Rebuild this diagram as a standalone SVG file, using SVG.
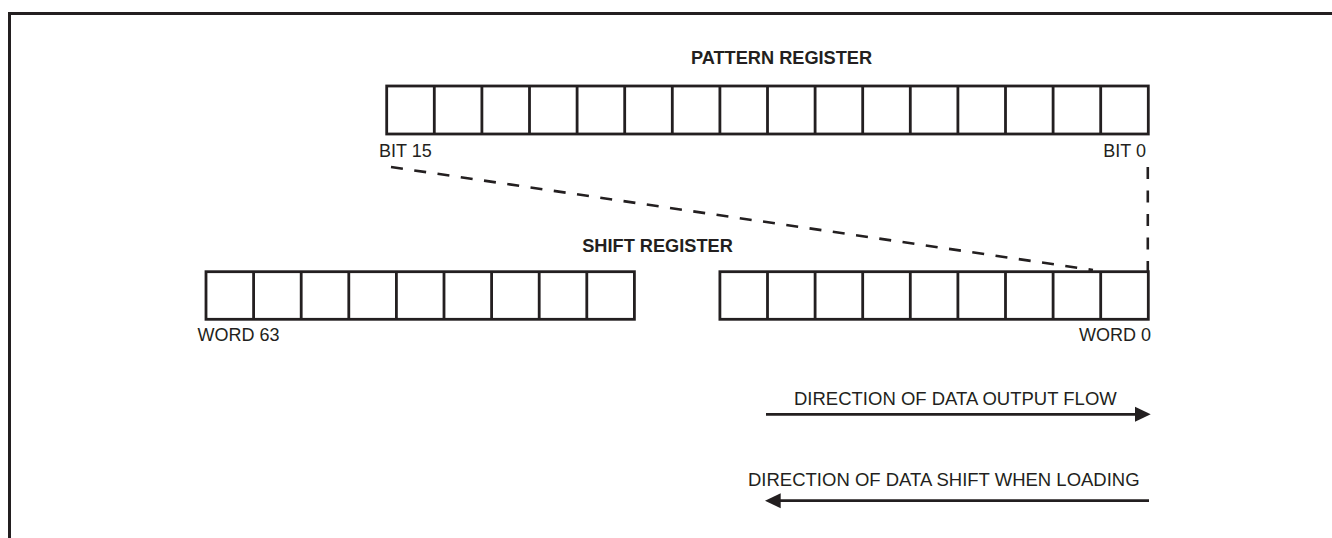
<svg xmlns="http://www.w3.org/2000/svg" width="1332" height="538" viewBox="0 0 1332 538">
  <style>
    .frame { fill: none; stroke: #231f20; stroke-width: 3; }
    .cell { fill: #fff; stroke: #231f20; stroke-width: 2.8; }
    .lbl { font-family: "Liberation Sans", Arial, sans-serif; font-size: 18px; fill: #231f20; }
    .dir { font-size: 18.5px; }
    .title { font-family: "Liberation Sans", Arial, sans-serif; font-size: 18.2px; font-weight: bold; fill: #231f20; }
    .dash { fill: none; stroke: #231f20; stroke-width: 2.6; stroke-dasharray: 12 11.5; }
    .flow { fill: none; stroke: #231f20; stroke-width: 2.8; }
    .head { fill: #231f20; }
  </style>

  <!-- outer frame: top and left edges only -->
  <path class="frame" d="M9.5,538 V13.5 H1332"/>

  <!-- 16-bit pattern register -->
  <g id="pattern-register">
    <text class="title" x="781.5" y="64" text-anchor="middle">PATTERN REGISTER</text>
    <rect class="cell" x="386.7" y="86" width="761.6" height="48"/>
    <path class="cell" d="M434.3,86V134 M481.9,86V134 M529.5,86V134 M577.1,86V134 M624.7,86V134 M672.3,86V134 M719.9,86V134 M767.5,86V134 M815.1,86V134 M862.7,86V134 M910.3,86V134 M957.9,86V134 M1005.5,86V134 M1053.1,86V134 M1100.7,86V134"/>
    <text class="lbl" x="379" y="157">BIT 15</text>
    <text class="lbl" x="1146" y="157" text-anchor="end">BIT 0</text>
  </g>

  <!-- 64-word shift register, drawn in two segments -->
  <g id="shift-register">
    <text class="title" x="657.5" y="252" text-anchor="middle">SHIFT REGISTER</text>
    <rect class="cell" x="206" y="271.7" width="428.4" height="47.6"/>
    <path class="cell" d="M253.6,271.7V319.3 M301.2,271.7V319.3 M348.8,271.7V319.3 M396.4,271.7V319.3 M444,271.7V319.3 M491.6,271.7V319.3 M539.2,271.7V319.3 M586.8,271.7V319.3"/>
    <rect class="cell" x="719.9" y="271.7" width="428.4" height="47.6"/>
    <path class="cell" d="M767.5,271.7V319.3 M815.1,271.7V319.3 M862.7,271.7V319.3 M910.3,271.7V319.3 M957.9,271.7V319.3 M1005.5,271.7V319.3 M1053.1,271.7V319.3 M1100.7,271.7V319.3"/>
    <text class="lbl" x="197.5" y="341">WORD 63</text>
    <text class="lbl" x="1151" y="341" text-anchor="end">WORD 0</text>
  </g>

  <!-- dashed mapping lines and direction arrows -->
  <g id="connectors">
    <path class="dash" d="M391,167 L1093,270"/>
    <path class="dash" d="M1147.8,167 V271"/>

    <text class="lbl dir" x="794" y="405">DIRECTION OF DATA OUTPUT FLOW</text>
    <path class="flow" d="M766,414.3 H1137"/>
    <path class="head" d="M1150.7,414.3 L1135,406.8 L1135,421.8 Z"/>

    <text class="lbl dir" x="748" y="486">DIRECTION OF DATA SHIFT WHEN LOADING</text>
    <path class="flow" d="M1149,500.7 H779"/>
    <path class="head" d="M765,500.7 L780.7,493.2 L780.7,508.2 Z"/>
  </g>
</svg>
